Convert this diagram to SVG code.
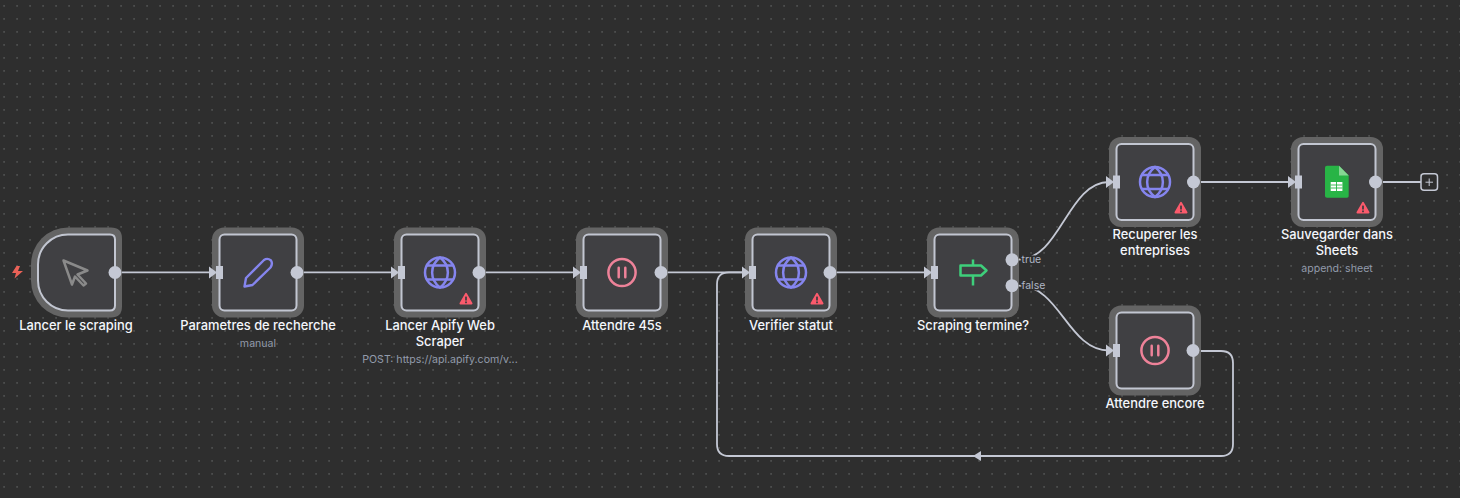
<svg xmlns="http://www.w3.org/2000/svg" width="1460" height="498" viewBox="0 0 1460 498">
<style>
.halo{fill:#646464}
.box{fill:#404043;stroke:#c2c6d1;stroke-width:2}
.lbl{font:500 12.9px Inter,"Noto Sans",sans-serif;fill:#f4f6fb;text-anchor:middle}
.sub{font:400 10.6px Inter,"Noto Sans",sans-serif;fill:#929bab;text-anchor:middle}
.plbl{font:400 10.5px Inter,"Noto Sans",sans-serif;fill:#b0b7c6;stroke:#2e2e2e;stroke-width:3;paint-order:stroke}
.edge{fill:none;stroke:#c4c8d4;stroke-width:1.800}
.port{fill:#c4c8d4}
.globe{fill:none;stroke:#8585ee;stroke-width:2.500}
.pause{fill:none;stroke:#ee8299;stroke-width:2.500}
</style>
<defs>
<pattern id="dots" width="13" height="13" patternUnits="userSpaceOnUse">
<rect x="3.200" y="5" width="1.800" height="1.800" fill="#4c4d4d"/>
</pattern>
<g id="inport"><path d="M-7 -6L1 0L-7 6Z" fill="#c4c8d4"/><rect x="0" y="-6.500" width="7" height="13" fill="#c4c8d4"/></g>
<g id="warn"><path d="M0 -5.200L5.600 4.500H-5.600Z" fill="#fb5a6c" stroke="#fb5a6c" stroke-width="1.800" stroke-linejoin="round"/><rect x="-.85" y="-2.400" width="1.700" height="3.900" fill="#3a3a3d"/><rect x="-.85" y="2.500" width="1.700" height="1.700" fill="#3a3a3d"/></g>
<g id="globeI"><circle r="15" class="globe"/><path d="M0 -15C-10.500 -7 -10.500 7 0 15C10.500 7 10.500 -7 0 -15Z" class="globe"/><path d="M-13.300 -7H13.300M-13.300 7H13.300" class="globe"/></g>
<g id="pauseI"><circle r="13.600" class="pause"/><path d="M-3.300 -4.800V4.800M3.300 -4.800V4.800" class="pause" stroke-linecap="round"/></g>
</defs>
<rect width="1460" height="498" fill="#2e2e2e"/>
<rect width="1460" height="498" fill="url(#dots)"/>

<g id="connectors">
<path class="edge" d="M115 272.300H212"/>
<path class="edge" d="M297 272.300H394"/>
<path class="edge" d="M479 272.300H576"/>
<path class="edge" d="M661 272.300H745"/>
<path class="edge" d="M830 272.300H927"/>
<path class="edge" d="M1012 259.500H1019C1060 259.500 1068 182 1109 182"/>
<path class="edge" d="M1012 285.700H1019C1060 285.700 1068 350.500 1109 350.500"/>
<path class="edge" d="M1193 182H1291"/>
<path class="edge" d="M1376 182H1421"/>
<path class="edge" d="M1193 351H1221Q1233 351 1233 363V444Q1233 456 1221 456H729Q717 456 717 444V284.300Q717 272.300 729 272.300H745"/>
<path d="M973 456L981 451V461Z" fill="#c4c8d4"/>
<rect x="1421" y="173.700" width="16.500" height="16.500" rx="3" fill="#2e2e2e" stroke="#c4c8d4" stroke-width="1.500"/>
<path d="M1429.200 178.500V186M1425.500 182.200H1433" stroke="#c4c8d4" stroke-width="1"/>
</g>

<g id="n1">
<path class="halo" d="M68 227.500H111Q122 227.500 122 238.500V306.500Q122 317.500 111 317.500H68A37 37 0 0 1 31 280.500V264.500A37 37 0 0 1 68 227.500Z"/>
<path class="box" d="M68 234.500H110Q115 234.500 115 239.500V305.500Q115 310.500 110 310.500H68A30 30 0 0 1 38 280.500V264.500A30 30 0 0 1 68 234.500Z"/>
<path d="M63.500 260.500L87.500 270.500L77.500 274.500L86 283.500L83.500 285.500L75 276.500L72 284.500Z" fill="none" stroke="#8a8a8a" stroke-width="2.500" stroke-linejoin="round"/>
<path d="M16.500 266L12 273H16L14.500 278.500L23 271H18L20 266Z" fill="#ea6258"/>
<circle class="port" cx="115" cy="272.500" r="6.500"/>
<text class="lbl" x="76" y="330">Lancer le scraping</text>
</g>

<g id="n2">
<rect class="halo" x="212" y="227.500" width="92" height="90" rx="12"/>
<rect class="box" x="219.500" y="234.500" width="77" height="76" rx="5"/>
<path d="M244.500 286.500L246 278L264 260Q267.500 257.500 271 260.500Q273 264 270.500 267.500L252.500 285Z" fill="none" stroke="#8585ee" stroke-width="2.400" stroke-linejoin="round"/>
<use href="#inport" x="216" y="272.500"/>
<circle class="port" cx="297" cy="272.500" r="6.500"/>
<text class="lbl" x="258" y="330">Parametres de recherche</text>
<text class="sub" x="258" y="347">manual</text>
</g>

<g id="n3">
<rect class="halo" x="394" y="227.500" width="92" height="90" rx="12"/>
<rect class="box" x="401.500" y="234.500" width="77" height="76" rx="5"/>
<use href="#globeI" x="440" y="272.500"/>
<use href="#warn" x="466" y="299"/>
<use href="#inport" x="398" y="272.500"/>
<circle class="port" cx="479" cy="272.500" r="6.500"/>
<text class="lbl" x="440" y="330">Lancer Apify Web</text>
<text class="lbl" x="440" y="346">Scraper</text>
<text class="sub" x="440" y="363">POST: https://api.apify.com/v...</text>
</g>

<g id="n4">
<rect class="halo" x="576" y="227.500" width="92" height="90" rx="12"/>
<rect class="box" x="583.500" y="234.500" width="77" height="76" rx="5"/>
<use href="#pauseI" x="622" y="272.500"/>
<use href="#inport" x="580" y="272.500"/>
<circle class="port" cx="661" cy="272.500" r="6.500"/>
<text class="lbl" x="622" y="330">Attendre 45s</text>
</g>

<g id="n5">
<rect class="halo" x="745" y="227.500" width="92" height="90" rx="12"/>
<rect class="box" x="752.500" y="234.500" width="77" height="76" rx="5"/>
<use href="#globeI" x="791" y="272.500"/>
<use href="#warn" x="817" y="299"/>
<use href="#inport" x="749" y="272.500"/>
<circle class="port" cx="830" cy="272.500" r="6.500"/>
<text class="lbl" x="791" y="330">Verifier statut</text>
</g>

<g id="n6">
<rect class="halo" x="927" y="227.500" width="92" height="90" rx="12"/>
<rect class="box" x="934.500" y="234.500" width="77" height="76" rx="5"/>
<path d="M973 259.500V265M973 275.500V285.500M960.500 265.500H981L986.500 270.500L981 275.500H960.500Z" fill="none" stroke="#3ecf7b" stroke-width="2.500" stroke-linejoin="round"/>
<use href="#inport" x="931" y="272.500"/>
<circle class="port" cx="1012" cy="259.800" r="6.500"/>
<circle class="port" cx="1012" cy="285.700" r="6.500"/>
<text class="plbl" x="1021.500" y="263">true</text>
<text class="plbl" x="1021.500" y="289">false</text>
<text class="lbl" x="973" y="330">Scraping termine?</text>
</g>

<g id="n7">
<rect class="halo" x="1109" y="137" width="92" height="90" rx="12"/>
<rect class="box" x="1116.500" y="144" width="77" height="76" rx="5"/>
<use href="#globeI" x="1155" y="182"/>
<use href="#warn" x="1181" y="208"/>
<use href="#inport" x="1113" y="182"/>
<circle class="port" cx="1193.500" cy="182" r="6.500"/>
<text class="lbl" x="1155" y="239">Recuperer les</text>
<text class="lbl" x="1155" y="255">entreprises</text>
</g>

<g id="n8">
<rect class="halo" x="1291" y="137" width="92" height="90" rx="12"/>
<rect class="box" x="1298.500" y="144" width="77" height="76" rx="5"/>
<path d="M1327 165.700H1339L1348.700 175.500V196Q1348.700 197.700 1347 197.700H1327Q1325 197.700 1325 196V167.500Q1325 165.700 1327 165.700Z" fill="#28b446"/>
<path d="M1339 165.700L1348.700 175.500H1339Z" fill="#86d694"/>
<rect x="1330.700" y="182" width="11.700" height="9" fill="#ffffff"/>
<path d="M1330.700 185H1342.400M1330.700 188H1342.400M1336.500 182V191" fill="none" stroke="#28b446" stroke-width=".9"/>
<use href="#warn" x="1363" y="208"/>
<use href="#inport" x="1295" y="182"/>
<circle class="port" cx="1375.500" cy="182" r="6.500"/>
<text class="lbl" x="1337" y="239">Sauvegarder dans</text>
<text class="lbl" x="1337" y="255">Sheets</text>
<text class="sub" x="1337" y="272">append: sheet</text>
</g>

<g id="n9">
<rect class="halo" x="1109" y="305.500" width="92" height="90" rx="12"/>
<rect class="box" x="1116.500" y="312.500" width="77" height="76" rx="5"/>
<use href="#pauseI" x="1155" y="350.500"/>
<use href="#inport" x="1113" y="350.500"/>
<circle class="port" cx="1193" cy="350.500" r="6.500"/>
<text class="lbl" x="1155" y="408">Attendre encore</text>
</g>
</svg>
